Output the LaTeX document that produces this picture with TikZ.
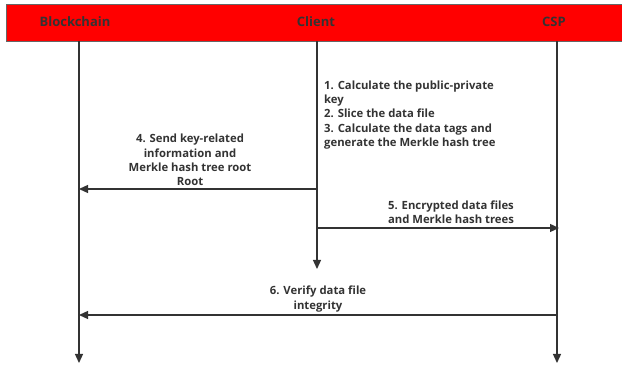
\documentclass[tikz,border=0pt]{standalone}
\usepackage{fontspec}
\setmainfont{Open Sans}
\usetikzlibrary{arrows.meta}
\definecolor{ink}{HTML}{333333}
\definecolor{hdr}{HTML}{FF0000}
\tikzset{
  lane/.style={draw=ink, line width=1.3pt, -{Triangle[length=9pt,width=8pt]}},
  msg/.style={draw=ink, line width=1.3pt, -{Triangle[length=9pt,width=8pt]}},
  actor/.style={font=\bfseries\fontsize{13}{15}\selectfont, text=ink, inner sep=0pt},
  note/.style={font=\bfseries\fontsize{11.3}{14.3}\selectfont, text=ink, inner sep=0pt, align=center},
}
\begin{document}
\begin{tikzpicture}[x=1pt, y=-1pt]
  \useasboundingbox (0,0) rectangle (622,366);
  % header band
  \path[fill=hdr, draw=gray!80!black, line width=0.8pt] (6,4) rectangle (640,41);
  \node[actor] (bc) at (75,22) {Blockchain};
  \node[actor] (cl) at (316,22) {Client};
  \node[actor] (csp) at (554,22) {CSP};
  % lifeline ends
  \coordinate (bcTop) at (79,41);
  \coordinate (clTop) at (317,41);
  \coordinate (cspTop) at (557,41);
  \coordinate (bcEnd) at (79,363);
  \coordinate (clEnd) at (317,269);
  \coordinate (cspEnd) at (557,363);
  \draw[lane] (bcTop) -- (bcEnd);
  \draw[lane] (clTop) -- (clEnd);
  \draw[lane] (cspTop) -- (cspEnd);
  % local computation at the client
  \node[note, align=left, anchor=north west] (steps) at (324,80.5)
    {1. Calculate the public-private\\key\\2. Slice the data file\\3. Calculate the data tags and\\generate the Merkle hash tree};
  % messages
  \coordinate (m4a) at (317,189);
  \coordinate (m4b) at (79,189);
  \draw[msg] (m4a) -- (m4b);
  \node[note, anchor=south] (t4) at (190,186)
    {4. Send key-related\\information and\\Merkle hash tree root\\Root};
  \coordinate (m5a) at (317,228);
  \coordinate (m5b) at (559,228);
  \draw[msg] (m5a) -- (m5b);
  \node[note, anchor=south] (t5) at (451,224)
    {5. Encrypted data files\\and Merkle hash trees};
  \coordinate (m6a) at (557,315);
  \coordinate (m6b) at (79,315);
  \draw[msg] (m6a) -- (m6b);
  \node[note, anchor=south] (t6) at (318,312)
    {6. Verify data file\\integrity};
\end{tikzpicture}
\end{document}
